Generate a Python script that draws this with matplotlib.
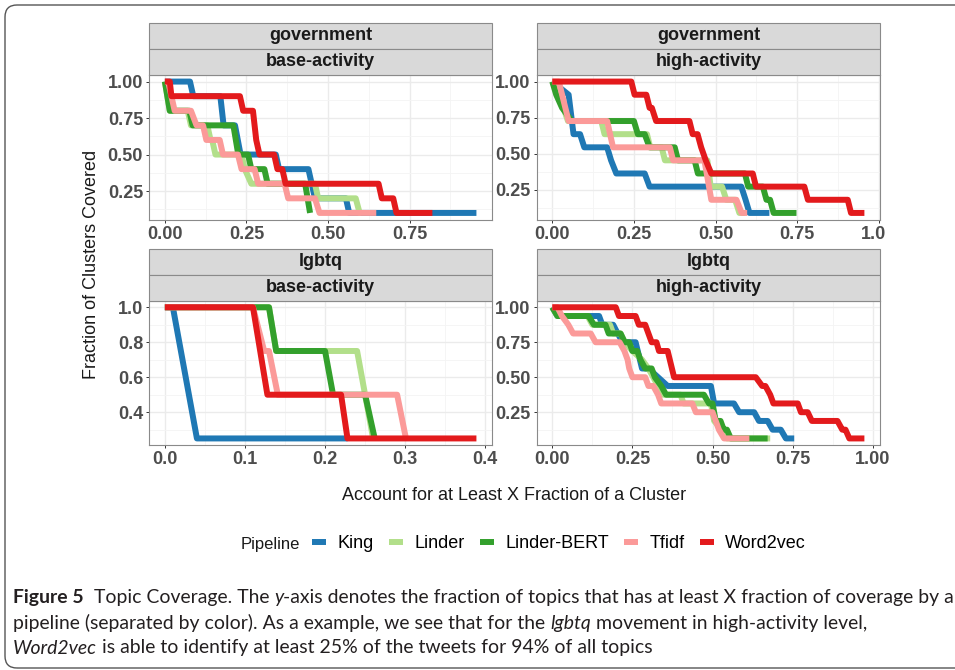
import matplotlib
matplotlib.use("Agg")
import matplotlib.pyplot as plt
from matplotlib.patches import Rectangle, FancyBboxPatch
from matplotlib.lines import Line2D
from matplotlib.ticker import FixedLocator
from matplotlib.transforms import Bbox, IdentityTransform

plt.rcParams["font.family"] = ["Liberation Sans", "DejaVu Sans"]

W, H = 955, 670

pipelines = ["King", "Linder", "Linder-BERT", "Tfidf", "Word2vec"]
colors = ["#1F78B4", "#B2DF8A", "#33A02C", "#FB9A99", "#E31A1C"]

# government / base-activity (10 clusters)
gb_king_x = [0, 0.077, 0.087, 0.17, 0.18, 0.215, 0.232, 0.34, 0.35, 0.44, 0.46, 0.555, 0.565, 0.955]
gb_king_y = [1, 1, 0.9, 0.9, 0.7, 0.7, 0.5, 0.5, 0.4, 0.4, 0.2, 0.2, 0.1, 0.1]
gb_linder_x = [0, 0.015, 0.07, 0.08, 0.13, 0.14, 0.145, 0.155, 0.235, 0.245, 0.265, 0.46, 0.47, 0.585, 0.597, 0.6]
gb_linder_y = [1, 0.8, 0.8, 0.7, 0.7, 0.6, 0.6, 0.5, 0.5, 0.4, 0.3, 0.3, 0.2, 0.2, 0.1, 0.1]
gb_bert_x = [0, 0.015, 0.075, 0.085, 0.21, 0.225, 0.255, 0.265, 0.305, 0.315, 0.43, 0.445]
gb_bert_y = [1, 0.8, 0.8, 0.7, 0.7, 0.5, 0.5, 0.4, 0.4, 0.3, 0.3, 0.1]
gb_tfidf_x = [0, 0.01, 0.03, 0.08, 0.097, 0.117, 0.127, 0.168, 0.178, 0.224, 0.235, 0.275, 0.286,
              0.367, 0.378, 0.46, 0.474, 0.648]
gb_tfidf_y = [1, 1, 0.8, 0.8, 0.7, 0.7, 0.6, 0.6, 0.5, 0.5, 0.4, 0.4, 0.3, 0.3, 0.2, 0.2, 0.1, 0.1]
gb_w2v_x = [0, 0.015, 0.02, 0.23, 0.24, 0.27, 0.28, 0.29, 0.335, 0.345, 0.36, 0.37, 0.655, 0.665,
            0.70, 0.71, 0.82]
gb_w2v_y = [1, 1, 0.9, 0.9, 0.8, 0.8, 0.6, 0.5, 0.5, 0.4, 0.4, 0.3, 0.3, 0.2, 0.2, 0.1, 0.1]

# government / high-activity (11 clusters)
gh_king_x = [0, 0.05, 0.065, 0.085, 0.098, 0.168, 0.18, 0.196, 0.283, 0.298, 0.579, 0.592, 0.604, 0.665]
gh_king_y = [1, 0.909, 0.636, 0.636, 0.545, 0.545, 0.455, 0.364, 0.364, 0.273, 0.273, 0.182, 0.091, 0.091]
gh_linder_x = [0, 0.02, 0.048, 0.15, 0.16, 0.29, 0.30, 0.335, 0.345, 0.475, 0.485, 0.52, 0.533,
               0.56, 0.573, 0.59]
gh_linder_y = [1, 0.909, 0.727, 0.727, 0.636, 0.636, 0.545, 0.545, 0.455, 0.455, 0.273, 0.273, 0.182,
               0.182, 0.091, 0.091]
gh_bert_x = [0, 0.012, 0.03, 0.06, 0.25, 0.262, 0.283, 0.298, 0.375, 0.385, 0.436, 0.446, 0.59, 0.60,
             0.645, 0.656, 0.667, 0.678, 0.748]
gh_bert_y = [1, 0.909, 0.818, 0.727, 0.727, 0.636, 0.636, 0.545, 0.545, 0.455, 0.455, 0.364, 0.364,
             0.273, 0.273, 0.182, 0.182, 0.091, 0.091]
gh_tfidf_x = [0, 0.02, 0.05, 0.168, 0.186, 0.36, 0.37, 0.466, 0.48, 0.487, 0.564, 0.58, 0.597]
gh_tfidf_y = [1, 1, 0.727, 0.727, 0.545, 0.545, 0.455, 0.455, 0.273, 0.182, 0.182, 0.091, 0.091]
gh_w2v_x = [0, 0.242, 0.252, 0.288, 0.298, 0.305, 0.318, 0.42, 0.43, 0.445, 0.456, 0.47, 0.487,
            0.614, 0.624, 0.772, 0.783, 0.905, 0.915, 0.956]
gh_w2v_y = [1, 1, 0.909, 0.909, 0.818, 0.818, 0.727, 0.727, 0.636, 0.636, 0.545, 0.455, 0.364,
            0.364, 0.273, 0.273, 0.182, 0.182, 0.091, 0.091]

# lgbtq / base-activity (4 clusters)
lb_king_x = [0, 0.01, 0.04, 0.228]
lb_king_y = [1, 1, 0.25, 0.25]
lb_linder_x = [0, 0.13, 0.139, 0.24, 0.25, 0.26]
lb_linder_y = [1, 1, 0.75, 0.75, 0.5, 0.25]
lb_bert_x = [0, 0.13, 0.139, 0.2, 0.21, 0.25, 0.262]
lb_bert_y = [1, 1, 0.75, 0.75, 0.5, 0.5, 0.25]
lb_tfidf_x = [0, 0.11, 0.124, 0.13, 0.141, 0.29, 0.301]
lb_tfidf_y = [1, 1, 0.75, 0.75, 0.5, 0.5, 0.25]
lb_w2v_x = [0, 0.11, 0.128, 0.22, 0.228, 0.389]
lb_w2v_y = [1, 1, 0.5, 0.5, 0.25, 0.25]

# lgbtq / high-activity (16 clusters)
lh_king_x = [0, 0.016, 0.146, 0.156, 0.19, 0.204, 0.22, 0.26, 0.28, 0.30, 0.36, 0.495, 0.505, 0.567,
             0.583, 0.63, 0.645, 0.672, 0.6875, 0.713, 0.729, 0.755]
lh_king_y = [1, 0.9375, 0.9375, 0.875, 0.875, 0.8125, 0.75, 0.75, 0.5625, 0.5625, 0.4375, 0.4375,
             0.3125, 0.3125, 0.25, 0.25, 0.1875, 0.1875, 0.125, 0.125, 0.0625, 0.0625]
lh_linder_x = [0, 0.016, 0.11, 0.125, 0.18, 0.19, 0.213, 0.226, 0.25, 0.28, 0.30, 0.315, 0.33, 0.345,
               0.40, 0.41, 0.495, 0.505, 0.53, 0.545, 0.68]
lh_linder_y = [1, 0.9375, 0.9375, 0.875, 0.875, 0.8125, 0.8125, 0.75, 0.6875, 0.625, 0.5625, 0.5,
               0.4375, 0.375, 0.375, 0.3125, 0.3125, 0.1875, 0.125, 0.0625, 0.0625]
lh_bert_x = [0, 0.016, 0.113, 0.13, 0.166, 0.176, 0.213, 0.226, 0.24, 0.25, 0.265, 0.275, 0.29, 0.31,
             0.32, 0.34, 0.355, 0.473, 0.489, 0.50, 0.51, 0.525, 0.535, 0.545, 0.557, 0.672]
lh_bert_y = [1, 0.9375, 0.9375, 0.875, 0.875, 0.8125, 0.8125, 0.75, 0.75, 0.6875, 0.6875, 0.625,
             0.5625, 0.5625, 0.5, 0.4375, 0.375, 0.375, 0.3125, 0.3125, 0.1875, 0.1875, 0.125, 0.125,
             0.0625, 0.0625]
lh_tfidf_x = [0, 0.016, 0.03, 0.05, 0.065, 0.12, 0.135, 0.21, 0.225, 0.235, 0.24, 0.25, 0.29, 0.30,
              0.315, 0.33, 0.34, 0.437, 0.448, 0.50, 0.51, 0.52, 0.536, 0.615]
lh_tfidf_y = [1, 1, 0.9375, 0.875, 0.8125, 0.8125, 0.75, 0.75, 0.6875, 0.625, 0.5625, 0.5, 0.5,
              0.4375, 0.4375, 0.375, 0.3125, 0.3125, 0.25, 0.25, 0.1875, 0.125, 0.0625, 0.0625]
lh_w2v_x = [0, 0.198, 0.208, 0.26, 0.27, 0.29, 0.30, 0.31, 0.325, 0.333, 0.36, 0.38, 0.635, 0.655,
            0.665, 0.68, 0.69, 0.766, 0.776, 0.797, 0.81, 0.89, 0.905, 0.915, 0.927, 0.974]
lh_w2v_y = [1, 1, 0.9375, 0.9375, 0.875, 0.875, 0.8125, 0.75, 0.75, 0.6875, 0.6875, 0.5, 0.5,
            0.4375, 0.4375, 0.375, 0.3125, 0.3125, 0.25, 0.25, 0.1875, 0.1875, 0.125, 0.125,
            0.0625, 0.0625]

panels = [
    ("government", "base-activity", (149.3, 75, 492, 219.5),
     [(gb_king_x, gb_king_y), (gb_linder_x, gb_linder_y), (gb_bert_x, gb_bert_y),
      (gb_tfidf_x, gb_tfidf_y), (gb_w2v_x, gb_w2v_y)],
     [0, 0.25, 0.5, 0.75], [0.25, 0.5, 0.75, 1.0], "%.2f", "%.2f"),
    ("government", "high-activity", (536.7, 75, 880, 219.5),
     [(gh_king_x, gh_king_y), (gh_linder_x, gh_linder_y), (gh_bert_x, gh_bert_y),
      (gh_tfidf_x, gh_tfidf_y), (gh_w2v_x, gh_w2v_y)],
     [0, 0.25, 0.5, 0.75, 1.0], [0.25, 0.5, 0.75, 1.0], "%.2f", "%.2f"),
    ("lgbtq", "base-activity", (149.3, 300.7, 492, 445),
     [(lb_king_x, lb_king_y), (lb_linder_x, lb_linder_y), (lb_bert_x, lb_bert_y),
      (lb_tfidf_x, lb_tfidf_y), (lb_w2v_x, lb_w2v_y)],
     [0, 0.1, 0.2, 0.3, 0.4], [0.4, 0.6, 0.8, 1.0], "%.1f", "%.1f"),
    ("lgbtq", "high-activity", (536.7, 300.7, 880, 445),
     [(lh_king_x, lh_king_y), (lh_linder_x, lh_linder_y), (lh_bert_x, lh_bert_y),
      (lh_tfidf_x, lh_tfidf_y), (lh_w2v_x, lh_w2v_y)],
     [0, 0.25, 0.5, 0.75, 1.0], [0.25, 0.5, 0.75, 1.0], "%.2f", "%.2f"),
]


def frac_rect(left, top, right, bottom):
    return [left / W, 1 - bottom / H, (right - left) / W, (bottom - top) / H]


fig = plt.figure(figsize=(W / 100, H / 100), dpi=100)

# outer frame of the figure box
frame = FancyBboxPatch((5, 2), 1010, 663, boxstyle="round,pad=0,rounding_size=12",
                       transform=IdentityTransform(), facecolor="none",
                       edgecolor="#555555", linewidth=1.0)
fig.add_artist(frame)

LW = 4.3
strip_h = 26
for row, col, (l, t, r, b), series, xt, yt, xfmt, yfmt in panels:
    ax = fig.add_axes(frac_rect(l, t, r, b))
    xs = [v for sx, sy in series for v in sx]
    ys = [v for sx, sy in series for v in sy]
    xr = max(xs) - min(xs)
    yr = max(ys) - min(ys)
    ax.set_xlim(min(xs) - 0.05 * xr, max(xs) + 0.05 * xr)
    ax.set_ylim(min(ys) - 0.05 * yr, max(ys) + 0.05 * yr)

    for (sx, sy), c in zip(series, colors):
        ax.plot(sx, sy, color=c, lw=LW, solid_joinstyle="round", solid_capstyle="butt")

    ax.xaxis.set_major_locator(FixedLocator(xt))
    ax.yaxis.set_major_locator(FixedLocator(yt))
    dx = xt[1] - xt[0]
    dy = yt[1] - yt[0]
    ax.xaxis.set_minor_locator(FixedLocator([v + dx / 2 for v in [xt[0] - dx] + xt]))
    ax.yaxis.set_minor_locator(FixedLocator([v + dy / 2 for v in [yt[0] - dy] + yt]))
    ax.set_xticklabels([xfmt % v for v in xt])
    ax.set_yticklabels([yfmt % v for v in yt])
    ax.grid(True, which="major", color="#EBEBEB", lw=1.0)
    ax.grid(True, which="minor", color="#F4F4F4", lw=0.6)
    ax.set_axisbelow(True)
    ax.tick_params(which="major", length=2.5, width=0.7, color="#333333",
                   labelsize=13, labelcolor="#4D4D4D", pad=2)
    ax.tick_params(which="minor", length=0)
    for lab in ax.get_xticklabels() + ax.get_yticklabels():
        lab.set_fontweight("bold")
    for sp in ax.spines.values():
        sp.set_color("#8A8A8A")
        sp.set_linewidth(0.8)

    # right edge of the figure image cuts the last tick label
    if col == "high-activity" and row == "government":
        lab = ax.get_xticklabels()[-1]
        lab.set_clip_on(True)
        lab.set_clip_box(Bbox.from_extents(0, 0, 885, H))

    # facet strips
    for i, txt in enumerate([row, col]):
        top = t - 2 * strip_h + i * strip_h
        fig.add_artist(Rectangle((l / W, 1 - (top + strip_h) / H), (r - l) / W, strip_h / H,
                                 transform=fig.transFigure, facecolor="#D9D9D9",
                                 edgecolor="#8A8A8A", lw=0.8))
        fig.text((l + r) / 2 / W, 1 - (top + strip_h / 2) / H, txt, ha="center", va="center",
                 fontsize=13, fontweight="bold", color="#1A1A1A")

fig.text(91 / W, 1 - 264 / H, "Fraction of Clusters Covered", rotation=90,
         ha="center", va="center", fontsize=13, color="#1A1A1A")
fig.text(514.5 / W, 1 - 496 / H, "Account for at Least X Fraction of a Cluster",
         ha="center", va="center", fontsize=13, color="#1A1A1A")

# legend
fig.text(241 / W, 1 - 544 / H, "Pipeline", ha="left", va="center", fontsize=12, color="#1A1A1A")
handles = [Line2D([], [], color=c, lw=LW, solid_capstyle="butt") for c in colors]
fig.legend(handles, pipelines, loc="center left", bbox_to_anchor=(312 / W, 1 - 544 / H),
           ncol=5, frameon=False, fontsize=13, handlelength=0.8, handletextpad=0.6,
           columnspacing=0.85, borderpad=0, borderaxespad=0)

# caption, written run by run so bold / italic words sit inline
cap_lines = [
    [("Figure 5", "bold", "normal"), ("  Topic Coverage. The ", "normal", "normal"),
     ("y", "normal", "italic"),
     ("-axis denotes the fraction of topics that has at least X fraction of coverage by a",
      "normal", "normal")],
    [("pipeline (separated by color). As a example, we see that for the ", "normal", "normal"),
     ("lgbtq", "normal", "italic"), (" movement in high-activity level,", "normal", "normal")],
    [("Word2vec", "normal", "italic"),
     (" is able to identify at least 25% of the tweets for 94% of all topics", "normal", "normal")],
]
cap_y = [597, 623, 648]
cap_font = ["Lato", "DejaVu Sans"]
renderer = fig.canvas.get_renderer()


def run_width(text, size, weight, style):
    probe = fig.text(0, 0, "|" + text + "|", fontsize=size, fontweight=weight, fontstyle=style,
                     family=cap_font)
    bar = fig.text(0, 0, "||", fontsize=size, fontweight=weight, fontstyle=style, family=cap_font)
    w = probe.get_window_extent(renderer).width - bar.get_window_extent(renderer).width
    probe.remove()
    bar.remove()
    return w


cap_size = 12
first = sum(run_width(t, cap_size, wt, st) for t, wt, st in cap_lines[0])
cap_size = cap_size * (950 - 13) / first

for runs, yy in zip(cap_lines, cap_y):
    x = 13
    for t, wt, st in runs:
        fig.text(x / W, 1 - yy / H, t, ha="left", va="center", fontsize=cap_size,
                 fontweight=wt, fontstyle=st, family=cap_font, color="#231F20")
        x += run_width(t, cap_size, wt, st)

fig.savefig("out.png", dpi=100)
